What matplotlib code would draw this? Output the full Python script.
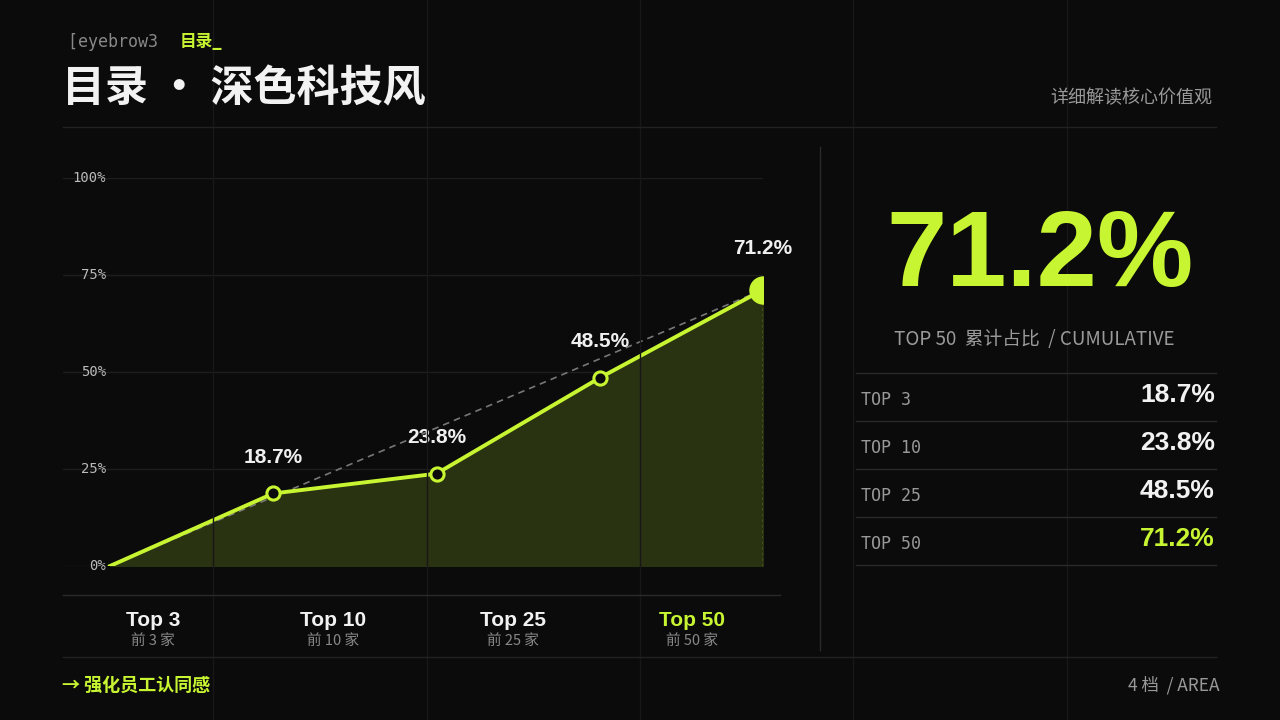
import matplotlib
matplotlib.use("Agg")
import matplotlib.pyplot as plt
from matplotlib.lines import Line2D

plt.rcParams['font.family'] = ['Noto Sans CJK SC', 'DejaVu Sans']

categories = ["Top 3", "Top 10", "Top 25", "Top 50"]
sub_labels = ["前 3 家", "前 10 家", "前 25 家", "前 50 家"]
values = [18.7, 23.8, 48.5, 71.2]
yticks = [0, 25, 50, 75, 100]
ytick_labels = ["0%", "25%", "50%", "75%", "100%"]
table_labels = ["TOP 3", "TOP 10", "TOP 25", "TOP 50"]

BG = "#0b0b0b"
LIME = "#c8f531"
W, H = 1280, 720
fig = plt.figure(figsize=(12.8, 7.2), dpi=100, facecolor=BG)

def fx(x): return x / W
def fy(y): return 1 - y / H

def hline(y, x0, x1, c="#222222", lw=1):
    fig.add_artist(Line2D([fx(x0), fx(x1)], [fy(y), fy(y)], color=c, lw=lw))
def vline(x, y0, y1, c="#1a1a1a", lw=1):
    fig.add_artist(Line2D([fx(x), fx(x)], [fy(y0), fy(y1)], color=c, lw=lw))

for gx in [213, 427, 640, 853, 1067]:
    vline(gx, 0, 720, "#181818")

# chart axes: x from -0.288 (px 63) to 4 (px 763); y 0..100 px 566..178
ax = fig.add_axes([fx(63), fy(566), (763 - 63) / W, (566 - 178) / H])
ax.set_facecolor("none")
ax.set_xlim(-0.288, 4)
ax.set_ylim(0, 100)
ax.axis("off")
for t in yticks:
    ax.axhline(t, color="#1e1e1e", lw=1, zorder=0)
xs = [0, 1, 2, 3, 4]
ys = [0] + values
ax.fill_between(xs, ys, 0, color="#2b3512", alpha=0.95, zorder=1)
ax.plot([0, 4], [0, values[-1]], ls=(0, (4, 3)), color="#777777", lw=1.2, zorder=2)
ax.plot([4, 4], [0, values[-1]], ls=(0, (2, 2)), color=LIME, lw=1, alpha=0.8, zorder=2)
ax.plot(xs, ys, color=LIME, lw=2.8, zorder=3)
ax.scatter(xs[1:4], ys[1:4], s=90, facecolor=BG, edgecolor=LIME, linewidth=2.2, zorder=4)
ax.scatter([4], [values[-1]], s=380, color=LIME, zorder=4)
offs = [11, 11, 11, 11]
for x, v in zip(xs[1:], values):
    ax.annotate(f"{v}%", (x, v), xytext=(0, 26 if x < 4 else 30), textcoords="offset points",
                ha="center", va="center", color="#f0f0f0", fontsize=15, fontweight="bold",
                family="Liberation Sans")

for t, l in zip(yticks, ytick_labels):
    py = 566 - t / 100 * 388
    fig.text(fx(106), fy(py), l, ha="right", va="center", color="#bbbbbb",
             fontsize=10, family="DejaVu Sans Mono")

hline(595, 63, 780, "#2a2a2a")
cat_x = [153, 333, 513, 692]
for i, (c, s, cx) in enumerate(zip(categories, sub_labels, cat_x)):
    col = LIME if i == 3 else "#f2f2f2"
    fig.text(fx(cx), fy(620), c, ha="center", va="center", color=col, fontsize=15,
             fontweight="bold", family="Liberation Sans")
    fig.text(fx(cx), fy(641), s, ha="center", va="center", color="#888888", fontsize=10.5)

# header
fig.text(fx(68), fy(42), "[eyebrow3 ", ha="left", va="center", color="#888888",
         fontsize=12, family="DejaVu Sans Mono")
fig.text(fx(180), fy(42), "目录_", ha="left", va="center", color=LIME, fontsize=12,
         fontweight="bold")
fig.text(fx(62), fy(88), "目录 · 深色科技风", ha="left", va="center", color="#f2f2f2",
         fontsize=31, fontweight="bold")
fig.text(fx(1212), fy(98), "详细解读核心价值观", ha="right", va="center", color="#999999",
         fontsize=13)
hline(127, 63, 1216, "#222222")

# right panel
vline(820, 147, 650, "#2a2a2a")
fig.text(fx(1040), fy(258), "71.2%", ha="center", va="center", color=LIME, fontsize=78,
         fontweight="bold", family="Liberation Sans")
fig.text(fx(1034), fy(340), "TOP 50  累计占比  / CUMULATIVE", ha="center", va="center",
         color="#9a9a9a", fontsize=13.5)
row_y = [398, 446, 494, 542]
hline(373, 856, 1216, "#2a2a2a")
for i, (lab, v, ry) in enumerate(zip(table_labels, values, row_y)):
    fig.text(fx(861), fy(ry + 2), lab, ha="left", va="center", color="#999999",
             fontsize=12, family="DejaVu Sans Mono")
    fig.text(fx(1215), fy(ry - 3), f"{v}%", ha="right", va="center",
             color=LIME if i == 3 else "#f2f2f2", fontsize=19, fontweight="bold",
             family="Liberation Sans")
    hline(ry + 23, 856, 1216, "#2a2a2a")

# footer
hline(657, 63, 1216, "#222222")
fig.text(fx(62), fy(685), "→ 强化员工认同感", ha="left", va="center", color=LIME,
         fontsize=13, fontweight="bold")
fig.text(fx(1220), fy(685), "4 档  / AREA", ha="right", va="center", color="#999999",
         fontsize=12.5)

fig.savefig("out.png", dpi=100, facecolor=BG)
